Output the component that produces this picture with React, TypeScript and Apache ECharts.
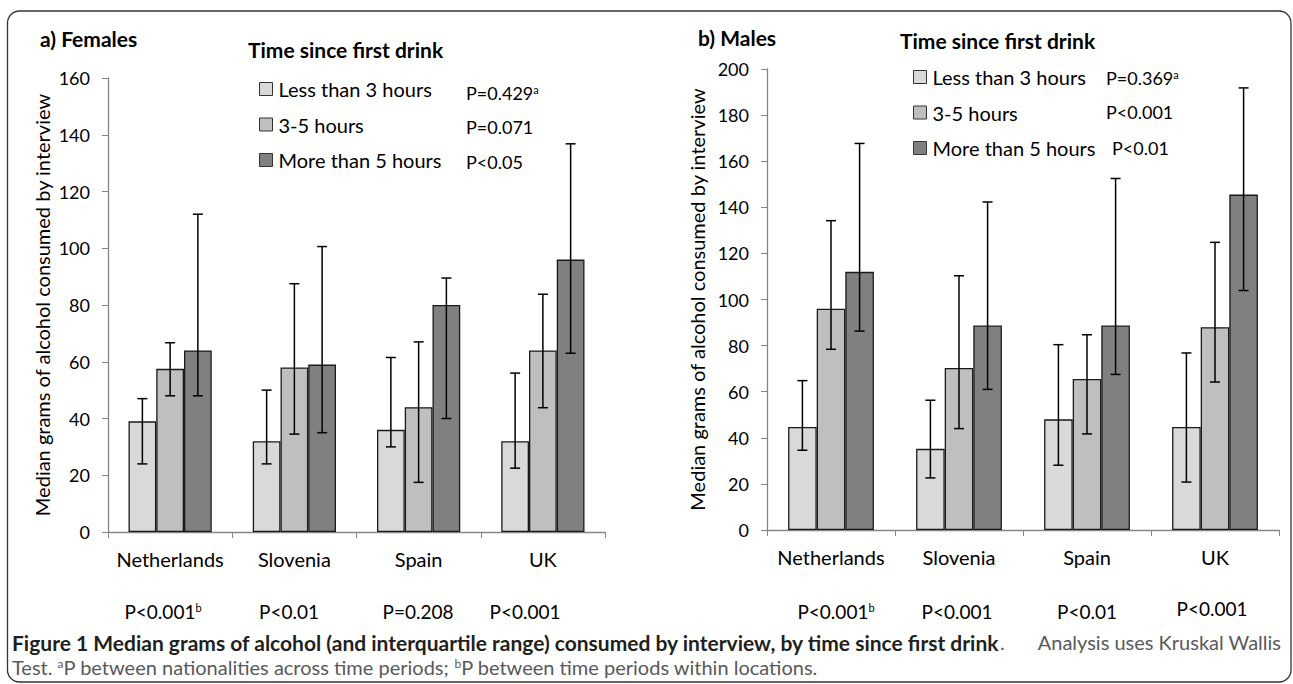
import React, { useEffect, useRef } from 'react';
import * as echarts from 'echarts';

const categories = ['Netherlands', 'Slovenia', 'Spain', 'UK'];
const seriesNames = ['Less than 3 hours', '3-5 hours', 'More than 5 hours'];
const barColors = ['#d9d9d9', '#bfbfbf', '#808080'];

// a) Females — medians
const femalesLess3 = [39, 32, 36, 32];
const females3to5 = [57.5, 58, 44, 64];
const femalesMore5 = [64, 59, 80, 96];
// a) Females — interquartile range (low, high)
const femalesLess3Low = [24, 24, 30, 22.5];
const femalesLess3High = [47, 50, 61.5, 56];
const females3to5Low = [48, 34.5, 17.5, 43.8];
const females3to5High = [66.7, 87.5, 67, 83.8];
const femalesMore5Low = [48, 35, 40, 63];
const femalesMore5High = [112, 100.6, 89.5, 136.8];

// b) Males — medians
const malesLess3 = [44.7, 35.2, 48, 44.7];
const males3to5 = [96, 70.3, 65.5, 88];
const malesMore5 = [112, 88.7, 88.7, 145.5];
// b) Males — interquartile range (low, high)
const malesLess3Low = [34.6, 22.6, 28.1, 20.8];
const malesLess3High = [64.8, 56.3, 80.4, 76.8];
const males3to5Low = [78.4, 44, 41.7, 64.2];
const males3to5High = [134.2, 110.3, 84.7, 124.8];
const malesMore5Low = [86.3, 61, 67.5, 103.9];
const malesMore5High = [167.7, 142.3, 152.5, 191.8];

// P values
const femalesLegendP = ['P=0.429', 'P=0.071', 'P<0.05'];
const malesLegendP = ['P=0.369', 'P<0.001', 'P<0.01'];
const femalesLocationP = ['P<0.001', 'P<0.01', 'P=0.208', 'P<0.001'];
const malesLocationP = ['P<0.001', 'P<0.001', 'P<0.01', 'P<0.001'];

const yTitle = 'Median grams of alcohol consumed by interview';
const FONT = 'Lato, "Open Sans", sans-serif';
const CAT_GAP = 0.33;

function errorRender(slot: number) {
  return (params: any, api: any) => {
    const cat = api.value(0);
    const lo = api.coord([cat, api.value(1)]);
    const hi = api.coord([cat, api.value(2)]);
    const band = api.size([1, 0])[0];
    const barW = (band * (1 - CAT_GAP)) / 3;
    const x = lo[0] + (slot - 1) * barW;
    const h = 5;
    const st = { stroke: '#000', lineWidth: 1.5 };
    return {
      type: 'group',
      children: [
        { type: 'line', shape: { x1: x, y1: hi[1], x2: x, y2: lo[1] }, style: st },
        { type: 'line', shape: { x1: x - h, y1: hi[1], x2: x + h, y2: hi[1] }, style: st },
        { type: 'line', shape: { x1: x - h, y1: lo[1], x2: x + h, y2: lo[1] }, style: st },
      ],
    };
  };
}

function zip(low: number[], high: number[]) {
  return low.map((l, i) => [i, l, high[i]]);
}

export default function App() {
  const ref = useRef<HTMLDivElement>(null);
  useEffect(() => {
    if (!ref.current) return;
    const chart = echarts.init(ref.current, undefined, { renderer: 'svg' });

    const axisGrey = '#868686';
    const xAxisBase = (gridIndex: number) => ({
      type: 'category',
      gridIndex,
      data: categories,
      axisLine: { lineStyle: { color: axisGrey, width: 1.3 } },
      axisTick: { show: true, alignWithLabel: false, interval: 0, length: 6, lineStyle: { color: axisGrey } },
      axisLabel: { color: '#000', fontSize: 20, fontFamily: FONT, margin: 17, interval: 0 },
      splitLine: { show: false },
    });
    const yAxisBase = (gridIndex: number, max: number, gap: number) => ({
      type: 'value',
      gridIndex,
      min: 0,
      max,
      interval: 20,
      name: yTitle,
      nameLocation: 'middle',
      nameRotate: 90,
      nameGap: gap,
      nameTextStyle: { color: '#000', fontSize: 20, fontFamily: FONT },
      axisLine: { show: true, lineStyle: { color: axisGrey, width: 1.3 } },
      axisTick: { show: true, length: 6, lineStyle: { color: axisGrey } },
      axisLabel: { color: '#000', fontSize: 18, fontFamily: FONT, margin: 18 },
      splitLine: { show: false },
    });

    const femaleMed = [femalesLess3, females3to5, femalesMore5];
    const femaleErr = [
      zip(femalesLess3Low, femalesLess3High),
      zip(females3to5Low, females3to5High),
      zip(femalesMore5Low, femalesMore5High),
    ];
    const maleMed = [malesLess3, males3to5, malesMore5];
    const maleErr = [
      zip(malesLess3Low, malesLess3High),
      zip(males3to5Low, males3to5High),
      zip(malesMore5Low, malesMore5High),
    ];

    const series: any[] = [];
    [femaleMed, maleMed].forEach((meds, g) => {
      meds.forEach((d, s) => {
        series.push({
          type: 'bar',
          name: seriesNames[s],
          xAxisIndex: g,
          yAxisIndex: g,
          data: d,
          barCategoryGap: '33%',
          barGap: '0%',
          itemStyle: { color: barColors[s], borderColor: '#1a1a1a', borderWidth: 1.3 },
          emphasis: { disabled: true },
        });
      });
    });
    [femaleErr, maleErr].forEach((errs, g) => {
      errs.forEach((d, s) => {
        series.push({
          type: 'custom',
          name: 'IQR ' + g + s,
          xAxisIndex: g,
          yAxisIndex: g,
          data: d,
          encode: { x: 0, y: [1, 2] },
          renderItem: errorRender(s),
          z: 5,
          silent: true,
        });
      });
    });

    const legendBase = {
      orient: 'vertical',
      data: seriesNames,
      icon: 'rect',
      itemWidth: 13,
      itemHeight: 13,
      itemGap: 15.5,
      padding: 0,
      selectedMode: false,
      itemStyle: { borderColor: '#333', borderWidth: 1 },
      textStyle: { color: '#000', fontSize: 20, fontFamily: FONT, lineHeight: 20, padding: [0, 0, 0, 1] },
    };

    const sup = { fontSize: 11, fontFamily: FONT, verticalAlign: 'top', fill: '#000' };
    const txt = (x: number, y: number, text: string, font: string, extra: any = {}) => ({
      type: 'text',
      x,
      y,
      silent: true,
      style: { text, font, fill: '#000', align: 'left', verticalAlign: 'middle', ...extra },
    });

    const graphic: any[] = [
      {
        type: 'rect',
        shape: { x: 7.5, y: 11, width: 1283.5, height: 671, r: 12 },
        style: { fill: 'none', stroke: '#333', lineWidth: 1.3 },
        silent: true,
      },
      txt(40, 38, 'a) Females', `bold 21px ${FONT}`),
      txt(248, 49, 'Time since first drink', `bold 21px ${FONT}`),
      txt(698, 37, 'b) Males', `bold 21px ${FONT}`),
      txt(900, 40, 'Time since first drink', `bold 21px ${FONT}`),
    ];
    const femLegY = [93, 127, 162];
    femalesLegendP.forEach((p, i) => {
      graphic.push(
        txt(466, femLegY[i], i === 0 ? p + '{s|a}' : p, `18px ${FONT}`, { rich: { s: sup } })
      );
    });
    const maleLegY = [78, 112, 148];
    const maleLegX = [1106, 1106, 1112];
    malesLegendP.forEach((p, i) => {
      graphic.push(
        txt(maleLegX[i], maleLegY[i], i === 0 ? p + '{s|a}' : p, `18px ${FONT}`, { rich: { s: sup } })
      );
    });
    const femLocX = [163, 289, 418, 525];
    femalesLocationP.forEach((p, i) => {
      graphic.push(
        txt(femLocX[i], 611, i === 0 ? p + '{s|b}' : p, `19px ${FONT}`, { align: 'center', rich: { s: sup } })
      );
    });
    const maleLocX = [836, 957, 1087, 1212];
    const maleLocY = [611, 611, 611, 608];
    malesLocationP.forEach((p, i) => {
      graphic.push(
        txt(maleLocX[i], maleLocY[i], i === 0 ? p + '{s|b}' : p, `19px ${FONT}`, { align: 'center', rich: { s: sup } })
      );
    });
    const capGrey = '#58595b';
    graphic.push(
      txt(
        12,
        642,
        '{b|Figure 1 Median grams of alcohol (and interquartile range) consumed by interview, by time since first drink}{n|.}',
        `20px ${FONT}`,
        {
          rich: {
            b: { font: `bold 21px ${FONT}`, fill: '#231f20' },
            n: { font: `20px ${FONT}`, fill: capGrey },
          },
        }
      ),
      txt(1281, 642, 'Analysis uses Kruskal Wallis', `20px ${FONT}`, { align: 'right', fill: capGrey }),
      txt(
        12,
        667,
        'Test. {s|a}P between nationalities across time periods; {s|b}P between time periods within locations.',
        `20px ${FONT}`,
        { fill: capGrey, rich: { s: { fontSize: 12, fontFamily: FONT, verticalAlign: 'top', fill: capGrey } } }
      )
    );

    chart.setOption({
      animation: false,
      backgroundColor: '#fff',
      grid: [
        { left: 108, top: 78, width: 497, height: 454 },
        { left: 767, top: 69, width: 512, height: 461 },
      ],
      xAxis: [xAxisBase(0), xAxisBase(1)],
      yAxis: [yAxisBase(0, 160, 56), yAxisBase(1, 200, 60)],
      legend: [
        { ...legendBase, left: 259, top: 79 },
        { ...legendBase, left: 913, top: 67 },
      ],
      series,
      graphic,
    });

    return () => chart.dispose();
  }, []);

  return (
    <div
      ref={ref}
      style={{ position: 'absolute', left: 0, top: 0, width: 1293, height: 684, background: '#fff' }}
    />
  );
}
